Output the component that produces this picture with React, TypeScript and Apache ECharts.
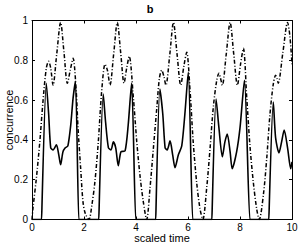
import React, { useEffect, useRef } from "react";
import * as echarts from "echarts";

const titleText = "b";
const xName = "scaled time";
const yName = "concurrence";

const xTicks = [0, 2, 4, 6, 8, 10];
const yTicks = [0, 0.2, 0.4, 0.6, 0.8, 1];

// dash-dot curve
const dashTimes = [
  0, 0.04, 0.17, 0.3, 0.42, 0.55, 0.64, 0.72, 0.81, 0.95, 1.1, 1.23, 1.36, 1.47, 1.58, 1.7, 1.77, 1.87, 1.96, 2.05, 2.19,
  2.3, 2.42, 2.55, 2.68, 2.81, 2.9, 3.0, 3.14, 3.28, 3.41, 3.54, 3.64, 3.74, 3.9, 4.03, 4.15, 4.28, 4.41,
  4.54, 4.67, 4.8, 4.9, 4.99, 5.07, 5.15, 5.3, 5.44, 5.58, 5.72, 5.84, 5.95, 6.08, 6.2, 6.33, 6.46, 6.57,
  6.72, 6.85, 6.97, 7.1, 7.19, 7.25, 7.32, 7.47, 7.62, 7.76, 7.9, 8.02, 8.13, 8.26, 8.38, 8.51, 8.64, 8.74,
  8.9, 9.03, 9.15, 9.28, 9.37, 9.42, 9.47, 9.65, 9.83, 9.92, 10,
];
const dashValues = [
  0, 0.06, 0.21, 0.39, 0.59, 0.76, 0.795, 0.76, 0.675, 0.83, 0.99, 0.84, 0.685, 0.75, 0.81, 0.645, 0.46, 0.26, 0.09, 0.03, 0,
  0.07, 0.19, 0.39, 0.645, 0.78, 0.75, 0.675, 0.83, 0.99, 0.84, 0.685, 0.76, 0.82, 0.61, 0.39, 0.225, 0.09, 0,
  0.16, 0.36, 0.56, 0.71, 0.75, 0.72, 0.675, 0.83, 0.99, 0.83, 0.675, 0.77, 0.84, 0.645, 0.39, 0.19, 0.055, 0,
  0.16, 0.36, 0.56, 0.695, 0.735, 0.71, 0.675, 0.83, 0.99, 0.83, 0.675, 0.78, 0.86, 0.61, 0.375, 0.19, 0.055, 0,
  0.125, 0.31, 0.525, 0.68, 0.725, 0.71, 0.685, 0.84, 0.99, 0.92, 0.78,
];

// solid curve (paired zero points keep the corners sharp)
const solidTimes = [
  0, 0.37, 0.38, 0.55, 0.64, 0.72, 0.81, 0.94, 1.03, 1.1, 1.19, 1.28, 1.38, 1.49, 1.58, 1.67, 1.8, 1.81,
  2.57, 2.58, 2.74, 2.83, 2.94, 3.04, 3.13, 3.22, 3.32, 3.42, 3.58, 3.7, 3.83, 3.99, 4.0,
  4.76, 4.77, 4.92, 5.03, 5.12, 5.2, 5.31, 5.41, 5.5, 5.63, 5.76, 5.88, 6.01, 6.18, 6.19,
  6.92, 6.93, 7.08, 7.19, 7.32, 7.42, 7.51, 7.62, 7.7, 7.87, 8.0, 8.17, 8.38, 8.39,
  9.11, 9.12, 9.28, 9.37, 9.5, 9.6, 9.7, 9.83, 9.95, 10,
];
const solidValues = [
  0, 0, 0, 0.685, 0.53, 0.36, 0.35, 0.375, 0.325, 0.275, 0.34, 0.36, 0.37, 0.475, 0.61, 0.695, 0, 0,
  0, 0, 0.63, 0.49, 0.36, 0.35, 0.39, 0.36, 0.27, 0.34, 0.345, 0.475, 0.685, 0, 0,
  0, 0, 0.655, 0.53, 0.36, 0.35, 0.395, 0.325, 0.26, 0.325, 0.37, 0.53, 0.74, 0, 0,
  0, 0, 0.605, 0.46, 0.315, 0.39, 0.43, 0.34, 0.255, 0.34, 0.46, 0.7, 0, 0,
  0, 0, 0.59, 0.41, 0.335, 0.39, 0.45, 0.36, 0.255, 0.29,
];

const FONT = "Liberation Sans, Arial, Helvetica, sans-serif";

export default function App() {
  const ref = useRef<HTMLDivElement>(null);
  useEffect(() => {
    if (!ref.current) return;
    const chart = echarts.init(ref.current, undefined, { renderer: "svg" });
    const dashData = dashTimes.map((t, i) => [t, dashValues[i]]);
    const solidData = solidTimes.map((t, i) => [t, solidValues[i]]);
    const axisCommon = {
      axisLine: { show: true, onZero: false, lineStyle: { color: "#000", width: 1 } },
      axisTick: { show: true, inside: true, length: 3, lineStyle: { color: "#000", width: 1 } },
      splitLine: { show: false },
    };
    const xMin = xTicks[0];
    const xMax = xTicks[xTicks.length - 1];
    const xInt = xTicks[1] - xTicks[0];
    const yMin = yTicks[0];
    const yMax = yTicks[yTicks.length - 1];
    const yInt = yTicks[1] - yTicks[0];
    chart.setOption({
      animation: false,
      backgroundColor: "#fff",
      title: {
        text: titleText,
        left: "center",
        top: 3,
        padding: 0,
        textStyle: { fontSize: 11, fontWeight: "bold", color: "#000", fontFamily: FONT },
      },
      grid: { left: 32, right: 8, top: 20.5, bottom: 25.5, containLabel: false, outerBoundsMode: "none" },
      xAxis: [
        {
          type: "value",
          position: "bottom",
          min: xMin,
          max: xMax,
          interval: xInt,
          ...axisCommon,
          axisLabel: { color: "#000", fontSize: 10, lineHeight: 10, margin: 3, fontFamily: FONT },
          name: xName,
          nameLocation: "middle",
          nameGap: 13,
          nameMoveOverlap: false,
          nameTextStyle: { color: "#000", fontSize: 11, lineHeight: 11, fontFamily: FONT },
        },
        {
          type: "value",
          position: "top",
          min: xMin,
          max: xMax,
          interval: xInt,
          ...axisCommon,
          axisLabel: { show: false },
        },
      ],
      yAxis: [
        {
          type: "value",
          position: "left",
          min: yMin,
          max: yMax,
          interval: yInt,
          ...axisCommon,
          axisLabel: { color: "#000", fontSize: 10, margin: 4, fontFamily: FONT },
          name: yName,
          nameLocation: "middle",
          nameGap: 18,
          nameMoveOverlap: false,
          nameTextStyle: { color: "#000", fontSize: 11, fontFamily: FONT },
        },
        {
          type: "value",
          position: "right",
          min: yMin,
          max: yMax,
          interval: yInt,
          ...axisCommon,
          axisLabel: { show: false },
        },
      ],
      series: [
        {
          type: "line",
          data: dashData,
          xAxisIndex: 0,
          yAxisIndex: 0,
          showSymbol: false,
          smooth: 0.3,
          lineStyle: { color: "#000", width: 1.5, type: [4, 2, 1, 2] },
        },
        {
          type: "line",
          data: solidData,
          xAxisIndex: 0,
          yAxisIndex: 0,
          showSymbol: false,
          smooth: 0.25,
          lineStyle: { color: "#000", width: 1.6 },
        },
      ],
    });
    return () => chart.dispose();
  }, []);
  return (
    <div
      ref={ref}
      style={{ position: "absolute", left: 0, top: 0, width: 300, height: 245 }}
    />
  );
}
